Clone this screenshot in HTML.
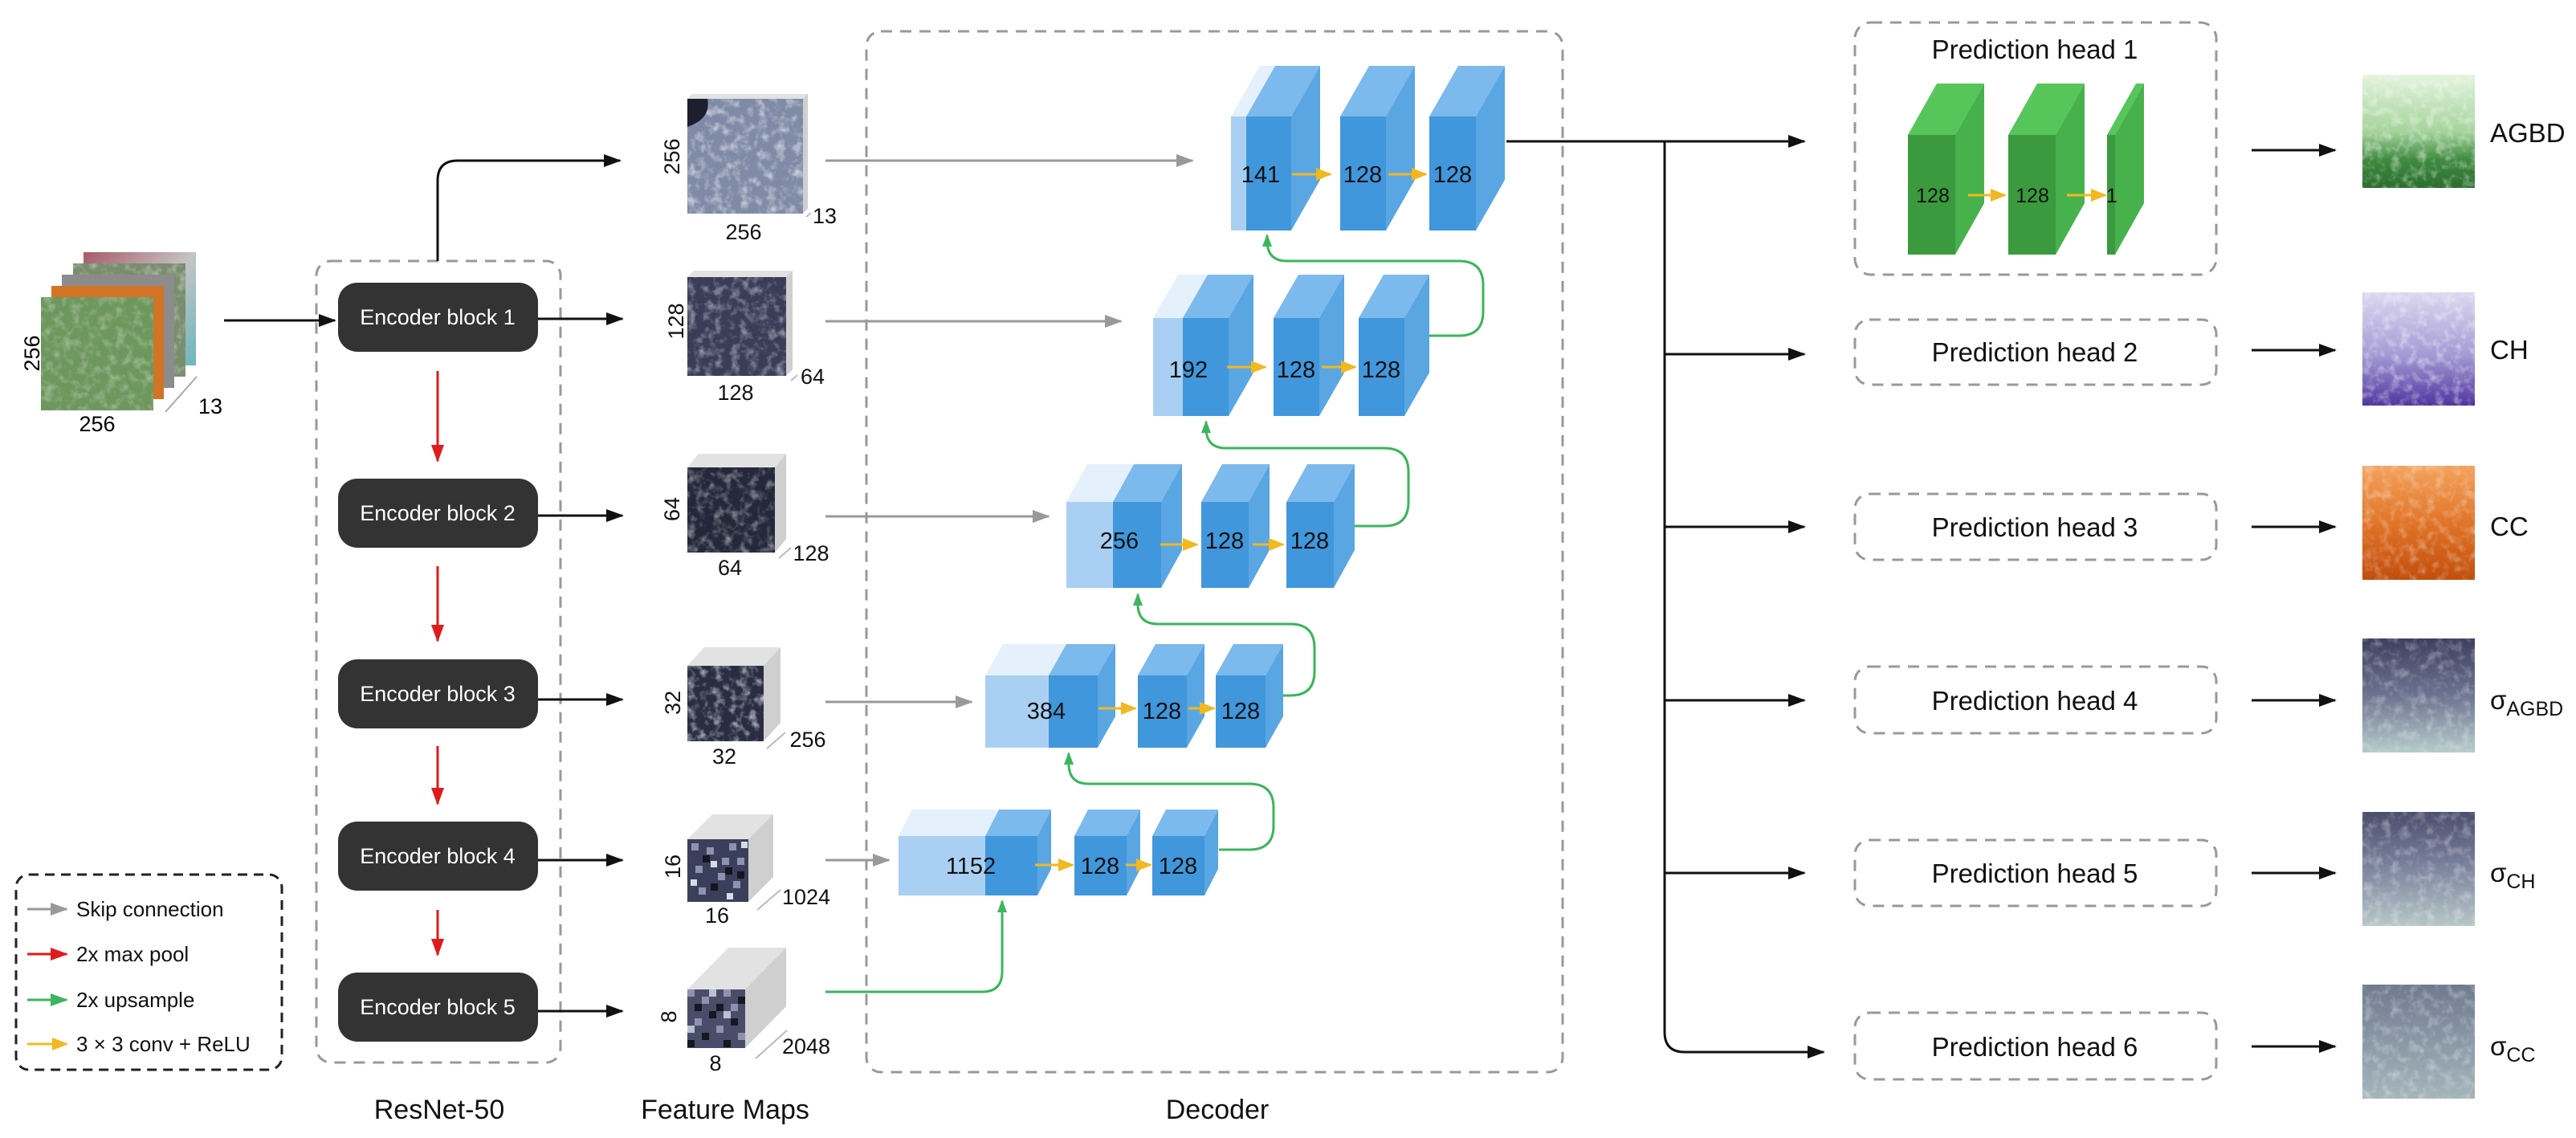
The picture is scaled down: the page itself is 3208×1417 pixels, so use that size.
<!DOCTYPE html>
<html><head><meta charset="utf-8"><style>
html,body{margin:0;padding:0;background:#fff;}
svg{display:block;}
text{font-family:"Liberation Sans",sans-serif;}
</style></head><body>
<svg width="3208" height="1417" viewBox="0 0 3208 1417" xmlns="http://www.w3.org/2000/svg">
<defs>
<marker id="ak" markerWidth="22" markerHeight="18" refX="20" refY="9" orient="auto" markerUnits="userSpaceOnUse"><path d="M0,1 L22,9 L0,17 Z" fill="#111"/></marker>
<marker id="ag" markerWidth="22" markerHeight="18" refX="20" refY="9" orient="auto" markerUnits="userSpaceOnUse"><path d="M0,1 L22,9 L0,17 Z" fill="#999"/></marker>
<marker id="ar" markerWidth="22" markerHeight="18" refX="20" refY="9" orient="auto" markerUnits="userSpaceOnUse"><path d="M0,1 L22,9 L0,17 Z" fill="#e11b1b"/></marker>
<marker id="agr" markerWidth="16" markerHeight="14" refX="14" refY="7" orient="auto" markerUnits="userSpaceOnUse"><path d="M0,1 L16,7 L0,13 Z" fill="#3cb55c"/></marker>
<marker id="agl" markerWidth="22" markerHeight="18" refX="20" refY="9" orient="auto" markerUnits="userSpaceOnUse"><path d="M0,1 L22,9 L0,17 Z" fill="#3cb55c"/></marker>
<marker id="ay" markerWidth="20" markerHeight="18" refX="18" refY="9" orient="auto" markerUnits="userSpaceOnUse"><path d="M0,1 L20,9 L0,17 Z" fill="#f2b81f"/></marker>
<filter id="nz" x="0" y="0" width="1" height="1"><feTurbulence type="fractalNoise" baseFrequency="0.09" numOctaves="3" seed="3"/><feColorMatrix values="0 0 0 0 1 0 0 0 0 1 0 0 0 0 1 2.2 0 0 0 -1.0"/><feComposite in2="SourceGraphic" operator="in"/></filter>
<linearGradient id="gAG" x1="0" y1="0" x2="0" y2="1"><stop offset="0" stop-color="#e4f3df"/><stop offset="0.5" stop-color="#a5d49b"/><stop offset="0.75" stop-color="#3f8a40"/><stop offset="1" stop-color="#2a6e2f"/></linearGradient>
<linearGradient id="gCH" x1="0" y1="0" x2="0" y2="1"><stop offset="0" stop-color="#dcd8f0"/><stop offset="0.55" stop-color="#a49bd4"/><stop offset="1" stop-color="#4f35a0"/></linearGradient>
<linearGradient id="gCC" x1="0" y1="0" x2="0" y2="1"><stop offset="0" stop-color="#f4a35e"/><stop offset="0.5" stop-color="#e07428"/><stop offset="1" stop-color="#c24e0c"/></linearGradient>
<linearGradient id="gS1" x1="0" y1="0" x2="0" y2="1"><stop offset="0" stop-color="#3d3f5e"/><stop offset="0.5" stop-color="#6c7390"/><stop offset="1" stop-color="#b7cbcb"/></linearGradient>
<linearGradient id="gS2" x1="0" y1="0" x2="0" y2="1"><stop offset="0" stop-color="#4a4d6c"/><stop offset="0.5" stop-color="#7d859f"/><stop offset="1" stop-color="#b6c7c8"/></linearGradient>
<linearGradient id="gS3" x1="0" y1="0" x2="0" y2="1"><stop offset="0" stop-color="#6f7a90"/><stop offset="1" stop-color="#a5b5bb"/></linearGradient>
<linearGradient id="gBack" x1="0" y1="0" x2="1" y2="1"><stop offset="0" stop-color="#a85a66"/><stop offset="0.5" stop-color="#c4c4c4"/><stop offset="1" stop-color="#6ab8c0"/></linearGradient>
</defs>

<!-- Input stack -->
<rect x="104" y="314" width="140" height="141" fill="url(#gBack)"/>
<rect x="91" y="328" width="140" height="141" fill="#7a8e6e"/>
<rect x="91" y="328" width="140" height="141" fill="#8a6cb8" opacity="0.4" filter="url(#nz)"/>
<rect x="77" y="342" width="140" height="141" fill="#8c8c8c"/>
<rect x="64" y="356" width="140" height="141" fill="#d17425"/>
<rect x="51" y="370" width="140" height="141" fill="#6e975e"/>
<rect x="51" y="370" width="140" height="141" fill="#fff" opacity="0.35" filter="url(#nz)"/>
<text x="40" y="440" font-size="27" text-anchor="middle" transform="rotate(-90 40 440)" dy="9">256</text>
<text x="121" y="537" font-size="27" text-anchor="middle">256</text>
<line x1="206" y1="513" x2="245" y2="469" stroke="#aaa" stroke-width="2"/>
<text x="247" y="515" font-size="27">13</text>
<line x1="279" y1="399" x2="417" y2="399" stroke="#111" stroke-width="3" marker-end="url(#ak)"/>

<!-- ResNet box -->
<rect x="394" y="325" width="304" height="998" rx="18" fill="none" stroke="#999" stroke-width="3" stroke-dasharray="14 10"/>
<path d="M545,325 V225 Q545,200 570,200 H772" fill="none" stroke="#111" stroke-width="3" marker-end="url(#ak)"/>

<!-- Encoders -->
<g font-size="27" fill="#fff" text-anchor="middle">
<rect x="421" y="352" width="249" height="86" rx="24" fill="#333"/><text x="545" y="404">Encoder block 1</text>
<rect x="421" y="596" width="249" height="86" rx="24" fill="#333"/><text x="545" y="648">Encoder block 2</text>
<rect x="421" y="821" width="249" height="86" rx="24" fill="#333"/><text x="545" y="873">Encoder block 3</text>
<rect x="421" y="1023" width="249" height="86" rx="24" fill="#333"/><text x="545" y="1075">Encoder block 4</text>
<rect x="421" y="1211" width="249" height="86" rx="24" fill="#333"/><text x="545" y="1263">Encoder block 5</text>
</g>
<g stroke="#e11b1b" stroke-width="3">
<line x1="545" y1="462" x2="545" y2="574" marker-end="url(#ar)"/>
<line x1="545" y1="705" x2="545" y2="798" marker-end="url(#ar)"/>
<line x1="545" y1="929" x2="545" y2="1001" marker-end="url(#ar)"/>
<line x1="545" y1="1133" x2="545" y2="1189" marker-end="url(#ar)"/>
</g>
<g stroke="#111" stroke-width="3">
<line x1="670" y1="397" x2="775" y2="397" marker-end="url(#ak)"/>
<line x1="670" y1="642" x2="775" y2="642" marker-end="url(#ak)"/>
<line x1="670" y1="871" x2="775" y2="871" marker-end="url(#ak)"/>
<line x1="670" y1="1071" x2="775" y2="1071" marker-end="url(#ak)"/>
<line x1="670" y1="1259" x2="775" y2="1259" marker-end="url(#ak)"/>
</g>

<!-- Feature maps -->
<g>
<polygon points="856,123 862,117 1006,117 1000,123" fill="#e2e2e2"/><polygon points="1000,123 1006,117 1006,260 1000,266" fill="#cfcfcf"/>
<rect x="856" y="123" width="144" height="143" fill="#7f8aa6"/><rect x="856" y="123" width="144" height="143" fill="#fff" opacity="0.6" filter="url(#nz)"/>
<path d="M856,123 h25 q5,25 -25,35 Z" fill="#1d1f2e"/>

<polygon points="856,345 864,337 987,337 979,345" fill="#e2e2e2"/><polygon points="979,345 987,337 987,460 979,468" fill="#cfcfcf"/>
<rect x="856" y="345" width="123" height="123" fill="#3a3c58"/><rect x="856" y="345" width="123" height="123" fill="#8890b0" opacity="0.5" filter="url(#nz)"/>

<polygon points="856,582 870,565 979,565 965,582" fill="#e2e2e2"/><polygon points="965,582 979,565 979,671 965,688" fill="#cfcfcf"/>
<rect x="856" y="582" width="109" height="106" fill="#25273a"/><rect x="856" y="582" width="109" height="106" fill="#5c6078" opacity="0.5" filter="url(#nz)"/>

<polygon points="856,829 877,806 972,806 951,829" fill="#e2e2e2"/><polygon points="951,829 972,806 972,900 951,923" fill="#cfcfcf"/>
<rect x="856" y="829" width="95" height="94" fill="#2a2c42"/><rect x="856" y="829" width="95" height="94" fill="#8a90b0" opacity="0.7" filter="url(#nz)"/>

<polygon points="856,1045 887,1014 963,1014 932,1045" fill="#e2e2e2"/><polygon points="932,1045 963,1014 963,1092 932,1123" fill="#cfcfcf"/>
<rect x="856" y="1045" width="76" height="78" fill="#3c3f5c"/>
<g fill="#8c93b0"><rect x="861" y="1050" width="9" height="9"/><rect x="880" y="1055" width="9" height="9"/><rect x="908" y="1050" width="9" height="9"/><rect x="918" y="1068" width="9" height="9"/><rect x="866" y="1078" width="9" height="9"/><rect x="894" y="1087" width="9" height="9"/><rect x="913" y="1097" width="9" height="9"/><rect x="870" y="1105" width="9" height="9"/><rect x="899" y="1068" width="9" height="9"/></g>
<g fill="#cfe0e0"><rect x="923" y="1048" width="8" height="8"/><rect x="885" y="1072" width="8" height="8"/><rect x="860" y="1095" width="8" height="8"/><rect x="905" y="1112" width="8" height="8"/></g>
<g fill="#15161f"><rect x="875" y="1065" width="9" height="9"/><rect x="903" y="1080" width="9" height="9"/><rect x="885" y="1100" width="9" height="9"/><rect x="918" y="1085" width="9" height="9"/></g>

<polygon points="856,1232 907,1180 979,1180 928,1232" fill="#e2e2e2"/><polygon points="928,1232 979,1180 979,1253 928,1305" fill="#cfcfcf"/>
<rect x="856" y="1232" width="72" height="73" fill="#4a4d6a"/>
<g fill="#8d93ae"><rect x="856" y="1232" width="9" height="9"/><rect x="874" y="1241" width="9" height="9"/><rect x="901" y="1232" width="9" height="9"/><rect x="910" y="1250" width="9" height="9"/><rect x="865" y="1268" width="9" height="9"/><rect x="892" y="1277" width="9" height="9"/><rect x="919" y="1286" width="9" height="9"/></g>
<g fill="#16171f"><rect x="865" y="1250" width="9" height="9"/><rect x="892" y="1250" width="9" height="9"/><rect x="883" y="1259" width="9" height="9"/><rect x="910" y="1268" width="9" height="9"/><rect x="874" y="1286" width="9" height="9"/><rect x="901" y="1295" width="9" height="9"/><rect x="856" y="1295" width="9" height="9"/><rect x="919" y="1241" width="9" height="9"/></g>
<g fill="#b8c2d2"><rect x="883" y="1232" width="9" height="9"/><rect x="856" y="1277" width="9" height="9"/><rect x="901" y="1259" width="9" height="9"/></g>
</g>
<g font-size="27" text-anchor="middle" fill="#111">
<text transform="translate(846,195) rotate(-90)">256</text><text x="926" y="298">256</text><text x="1027" y="278">13</text>
<text transform="translate(851,400) rotate(-90)">128</text><text x="916" y="498">128</text><text x="1012" y="478">64</text>
<text transform="translate(846,634) rotate(-90)">64</text><text x="909" y="716">64</text><text x="1010" y="698">128</text>
<text transform="translate(847,875) rotate(-90)">32</text><text x="902" y="951">32</text><text x="1006" y="930">256</text>
<text transform="translate(847,1079) rotate(-90)">16</text><text x="893" y="1149">16</text><text x="1004" y="1126">1024</text>
<text transform="translate(842,1266) rotate(-90)">8</text><text x="891" y="1333">8</text><text x="1004" y="1312">2048</text>
</g>
<g stroke="#bbb" stroke-width="2">
<line x1="1004" y1="270" x2="1010" y2="265"/><line x1="985" y1="474" x2="993" y2="467"/><line x1="970" y1="695" x2="985" y2="682"/><line x1="955" y1="932" x2="978" y2="912"/><line x1="943" y1="1133" x2="972" y2="1108"/><line x1="941" y1="1318" x2="980" y2="1283"/>
</g>

<!-- Decoder box -->
<rect x="1079" y="39" width="867" height="1296" rx="18" fill="none" stroke="#999" stroke-width="3" stroke-dasharray="14 10"/>

<!-- Skip arrows -->
<g stroke="#999" stroke-width="3">
<line x1="1028" y1="200" x2="1485" y2="200" marker-end="url(#ag)"/>
<line x1="1028" y1="400" x2="1396" y2="400" marker-end="url(#ag)"/>
<line x1="1028" y1="643" x2="1306" y2="643" marker-end="url(#ag)"/>
<line x1="1028" y1="874" x2="1210" y2="874" marker-end="url(#ag)"/>
<line x1="1028" y1="1071" x2="1107" y2="1071" marker-end="url(#ag)"/>
</g>

<!-- Decoder cubes -->
<g>
<rect x="1533" y="145" width="19" height="142" fill="#a9d0f2"/><polygon points="1533,145 1569,82 1588,82 1552,145" fill="#e4f1fc"/>
<rect x="1552" y="145" width="56" height="142" fill="#4197dc"/><polygon points="1552,145 1588,82 1644,82 1608,145" fill="#7cb9ec"/><polygon points="1608,145 1644,82 1644,224 1608,287" fill="#5aa6e2"/>
<rect x="1669" y="145" width="57" height="142" fill="#4197dc"/><polygon points="1669,145 1705,82 1762,82 1726,145" fill="#7cb9ec"/><polygon points="1726,145 1762,82 1762,224 1726,287" fill="#5aa6e2"/>
<rect x="1780" y="145" width="58" height="142" fill="#4197dc"/><polygon points="1780,145 1816,82 1874,82 1838,145" fill="#7cb9ec"/><polygon points="1838,145 1874,82 1874,224 1838,287" fill="#5aa6e2"/>
<rect x="1436" y="396" width="37" height="122" fill="#a9d0f2"/><polygon points="1436,396 1467,342 1504,342 1473,396" fill="#e4f1fc"/>
<rect x="1473" y="396" width="57" height="122" fill="#4197dc"/><polygon points="1473,396 1504,342 1561,342 1530,396" fill="#7cb9ec"/><polygon points="1530,396 1561,342 1561,464 1530,518" fill="#5aa6e2"/>
<rect x="1586" y="396" width="57" height="122" fill="#4197dc"/><polygon points="1586,396 1617,342 1674,342 1643,396" fill="#7cb9ec"/><polygon points="1643,396 1674,342 1674,464 1643,518" fill="#5aa6e2"/>
<rect x="1692" y="396" width="57" height="122" fill="#4197dc"/><polygon points="1692,396 1723,342 1780,342 1749,396" fill="#7cb9ec"/><polygon points="1749,396 1780,342 1780,464 1749,518" fill="#5aa6e2"/>
<rect x="1328" y="625" width="58" height="107" fill="#a9d0f2"/><polygon points="1328,625 1354,578 1412,578 1386,625" fill="#e4f1fc"/>
<rect x="1386" y="625" width="60" height="107" fill="#4197dc"/><polygon points="1386,625 1412,578 1472,578 1446,625" fill="#7cb9ec"/><polygon points="1446,625 1472,578 1472,685 1446,732" fill="#5aa6e2"/>
<rect x="1496" y="625" width="59" height="107" fill="#4197dc"/><polygon points="1496,625 1522,578 1581,578 1555,625" fill="#7cb9ec"/><polygon points="1555,625 1581,578 1581,685 1555,732" fill="#5aa6e2"/>
<rect x="1602" y="625" width="59" height="107" fill="#4197dc"/><polygon points="1602,625 1628,578 1687,578 1661,625" fill="#7cb9ec"/><polygon points="1661,625 1687,578 1687,685 1661,732" fill="#5aa6e2"/>
<rect x="1227" y="841" width="79" height="90" fill="#a9d0f2"/><polygon points="1227,841 1249,802 1328,802 1306,841" fill="#e4f1fc"/>
<rect x="1306" y="841" width="61" height="90" fill="#4197dc"/><polygon points="1306,841 1328,802 1389,802 1367,841" fill="#7cb9ec"/><polygon points="1367,841 1389,802 1389,892 1367,931" fill="#5aa6e2"/>
<rect x="1417" y="841" width="61" height="90" fill="#4197dc"/><polygon points="1417,841 1439,802 1500,802 1478,841" fill="#7cb9ec"/><polygon points="1478,841 1500,802 1500,892 1478,931" fill="#5aa6e2"/>
<rect x="1514" y="841" width="62" height="90" fill="#4197dc"/><polygon points="1514,841 1536,802 1598,802 1576,841" fill="#7cb9ec"/><polygon points="1576,841 1598,802 1598,892 1576,931" fill="#5aa6e2"/>
<rect x="1119" y="1041" width="108" height="74" fill="#a9d0f2"/><polygon points="1119,1041 1136,1008 1244,1008 1227,1041" fill="#e4f1fc"/>
<rect x="1227" y="1041" width="65" height="74" fill="#4197dc"/><polygon points="1227,1041 1244,1008 1309,1008 1292,1041" fill="#7cb9ec"/><polygon points="1292,1041 1309,1008 1309,1082 1292,1115" fill="#5aa6e2"/>
<rect x="1338" y="1041" width="65" height="74" fill="#4197dc"/><polygon points="1338,1041 1355,1008 1420,1008 1403,1041" fill="#7cb9ec"/><polygon points="1403,1041 1420,1008 1420,1082 1403,1115" fill="#5aa6e2"/>
<rect x="1435" y="1041" width="65" height="74" fill="#4197dc"/><polygon points="1435,1041 1452,1008 1517,1008 1500,1041" fill="#7cb9ec"/><polygon points="1500,1041 1517,1008 1517,1082 1500,1115" fill="#5aa6e2"/>
</g>
<g font-size="29" text-anchor="middle" fill="#111">
<text x="1570" y="227">141</text><text x="1697" y="227">128</text><text x="1809" y="227">128</text>
<text x="1480" y="470">192</text><text x="1614" y="470">128</text><text x="1720" y="470">128</text>
<text x="1394" y="683">256</text><text x="1525" y="683">128</text><text x="1631" y="683">128</text>
<text x="1303" y="895">384</text><text x="1447" y="895">128</text><text x="1545" y="895">128</text>
<text x="1209" y="1088">1152</text><text x="1370" y="1088">128</text><text x="1467" y="1088">128</text>
</g>
<g stroke="#f2b81f" stroke-width="3">
<line x1="1609" y1="217" x2="1657" y2="217" marker-end="url(#ay)"/><line x1="1729" y1="217" x2="1776" y2="217" marker-end="url(#ay)"/>
<line x1="1528" y1="457" x2="1576" y2="457" marker-end="url(#ay)"/><line x1="1646" y1="457" x2="1688" y2="457" marker-end="url(#ay)"/>
<line x1="1445" y1="678" x2="1491" y2="678" marker-end="url(#ay)"/><line x1="1560" y1="678" x2="1598" y2="678" marker-end="url(#ay)"/>
<line x1="1368" y1="882" x2="1414" y2="882" marker-end="url(#ay)"/><line x1="1480" y1="882" x2="1512" y2="882" marker-end="url(#ay)"/>
<line x1="1289" y1="1077" x2="1336" y2="1077" marker-end="url(#ay)"/><line x1="1402" y1="1077" x2="1433" y2="1077" marker-end="url(#ay)"/>
</g>
<g fill="none" stroke="#3cb55c" stroke-width="3">
<path d="M1780,418 H1817 Q1847,418 1847,388 V355 Q1847,325 1817,325 H1603 Q1578,325 1578,300 V293" marker-end="url(#agr)"/>
<path d="M1687,655 H1724 Q1754,655 1754,625 V588 Q1754,558 1724,558 H1527 Q1502,558 1502,533 V525" marker-end="url(#agr)"/>
<path d="M1598,866 H1607 Q1637,866 1637,836 V807 Q1637,777 1607,777 H1442 Q1417,777 1417,752 V740" marker-end="url(#agr)"/>
<path d="M1518,1058 H1556 Q1586,1058 1586,1028 V1006 Q1586,976 1556,976 H1356 Q1331,976 1331,951 V938" marker-end="url(#agr)"/>
<path d="M1028,1235 H1223 Q1248,1235 1248,1210 V1122" marker-end="url(#agr)"/>
</g>

<!-- Output tree -->
<g fill="none" stroke="#111" stroke-width="3">
<path d="M1876,176 H2247" marker-end="url(#ak)"/>
<path d="M2073,176 V1285 Q2073,1310 2098,1310 H2271" marker-end="url(#ak)"/>
<path d="M2073,441 H2247" marker-end="url(#ak)"/>
<path d="M2073,656 H2247" marker-end="url(#ak)"/>
<path d="M2073,872 H2247" marker-end="url(#ak)"/>
<path d="M2073,1087 H2247" marker-end="url(#ak)"/>
<path d="M2804,187 H2908" marker-end="url(#ak)"/>
<path d="M2804,436 H2908" marker-end="url(#ak)"/>
<path d="M2804,656 H2908" marker-end="url(#ak)"/>
<path d="M2804,872 H2908" marker-end="url(#ak)"/>
<path d="M2804,1087 H2908" marker-end="url(#ak)"/>
<path d="M2804,1303 H2908" marker-end="url(#ak)"/>
</g>
<g fill="none" stroke="#999" stroke-width="3" stroke-dasharray="14 10">
<rect x="2310" y="28" width="450" height="314" rx="20"/>
<rect x="2310" y="398" width="450" height="81" rx="18"/>
<rect x="2310" y="615" width="450" height="82" rx="18"/>
<rect x="2310" y="830" width="450" height="83" rx="18"/>
<rect x="2310" y="1046" width="450" height="82" rx="18"/>
<rect x="2310" y="1261" width="450" height="83" rx="18"/>
</g>
<g font-size="33" text-anchor="middle" fill="#111">
<text x="2534" y="73">Prediction head 1</text>
<text x="2534" y="450">Prediction head 2</text>
<text x="2534" y="668">Prediction head 3</text>
<text x="2534" y="884">Prediction head 4</text>
<text x="2534" y="1099">Prediction head 5</text>
<text x="2534" y="1315">Prediction head 6</text>
</g>
<rect x="2376" y="168" width="59" height="149" fill="#3a9a3d"/><polygon points="2376,168 2412,104 2471,104 2435,168" fill="#56c65a"/><polygon points="2435,168 2471,104 2471,253 2435,317" fill="#47b24b"/>
<rect x="2501" y="168" width="59" height="149" fill="#3a9a3d"/><polygon points="2501,168 2537,104 2596,104 2560,168" fill="#56c65a"/><polygon points="2560,168 2596,104 2596,253 2560,317" fill="#47b24b"/>
<rect x="2624" y="168" width="10" height="149" fill="#3a9a3d"/><polygon points="2624,168 2660,104 2670,104 2634,168" fill="#56c65a"/><polygon points="2634,168 2670,104 2670,253 2634,317" fill="#47b24b"/>
<g font-size="25" text-anchor="middle" fill="#111"><text x="2407" y="252">128</text><text x="2531" y="252">128</text><text x="2630" y="252">1</text></g>
<g stroke="#f2b81f" stroke-width="3"><line x1="2451" y1="243" x2="2497" y2="243" marker-end="url(#ay)"/><line x1="2574" y1="243" x2="2622" y2="243" marker-end="url(#ay)"/></g>

<rect x="2942" y="93" width="140" height="141" fill="url(#gAG)"/><rect x="2942" y="93" width="140" height="141" fill="#fff" opacity="0.5" filter="url(#nz)"/>
<rect x="2942" y="364" width="140" height="141" fill="url(#gCH)"/><rect x="2942" y="364" width="140" height="141" fill="#fff" opacity="0.5" filter="url(#nz)"/>
<rect x="2942" y="580" width="140" height="142" fill="url(#gCC)"/><rect x="2942" y="580" width="140" height="142" fill="#fff" opacity="0.35" filter="url(#nz)"/>
<rect x="2942" y="795" width="140" height="142" fill="url(#gS1)"/><rect x="2942" y="795" width="140" height="142" fill="#fff" opacity="0.35" filter="url(#nz)"/>
<rect x="2942" y="1011" width="140" height="142" fill="url(#gS2)"/><rect x="2942" y="1011" width="140" height="142" fill="#fff" opacity="0.35" filter="url(#nz)"/>
<rect x="2942" y="1226" width="140" height="142" fill="url(#gS3)"/><rect x="2942" y="1226" width="140" height="142" fill="#fff" opacity="0.35" filter="url(#nz)"/>
<g font-size="33" fill="#111">
<text x="3101" y="177">AGBD</text>
<text x="3101" y="447">CH</text>
<text x="3101" y="667">CC</text>
<text x="3101" y="883">σ<tspan font-size="25" dy="8">AGBD</tspan></text>
<text x="3101" y="1098">σ<tspan font-size="25" dy="8">CH</tspan></text>
<text x="3101" y="1314">σ<tspan font-size="25" dy="8">CC</tspan></text>
</g>

<rect x="20" y="1089" width="331" height="243" rx="16" fill="none" stroke="#222" stroke-width="3" stroke-dasharray="12 8"/>
<line x1="34" y1="1132" x2="83" y2="1132" stroke="#999" stroke-width="3" marker-end="url(#ag)"/>
<line x1="34" y1="1188" x2="83" y2="1188" stroke="#e11b1b" stroke-width="3" marker-end="url(#ar)"/>
<line x1="34" y1="1245" x2="83" y2="1245" stroke="#3cb55c" stroke-width="3" marker-end="url(#agl)"/>
<line x1="34" y1="1300" x2="83" y2="1300" stroke="#f2b81f" stroke-width="3" marker-end="url(#ay)"/>
<g font-size="26" fill="#111">
<text x="95" y="1141">Skip connection</text>
<text x="95" y="1197">2x max pool</text>
<text x="95" y="1254">2x upsample</text>
<text x="95" y="1309">3 × 3 conv + ReLU</text>
</g>

<g font-size="34" text-anchor="middle" fill="#111">
<text x="547" y="1393">ResNet-50</text>
<text x="903" y="1393">Feature Maps</text>
<text x="1516" y="1393">Decoder</text>
</g>
</svg>
</body></html>
